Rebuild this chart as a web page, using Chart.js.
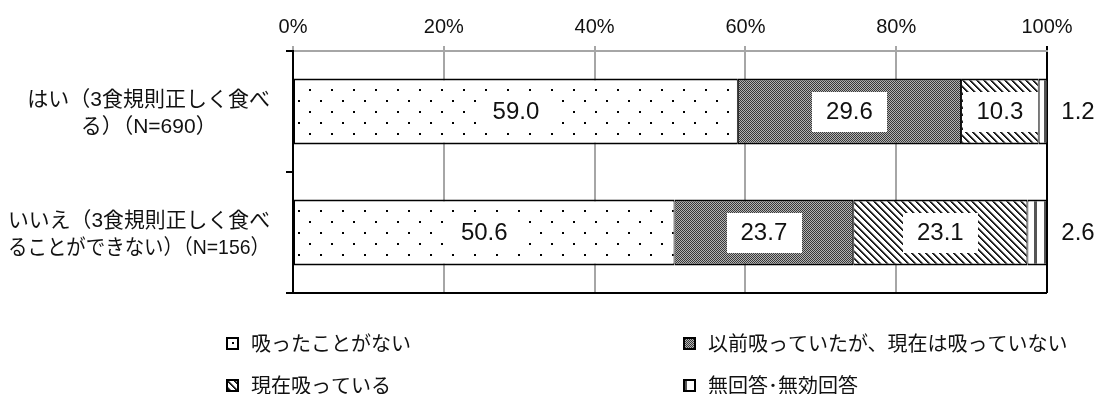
<!DOCTYPE html>
<html><head><meta charset="utf-8">
<script src="https://cdn.jsdelivr.net/npm/chart.js@4/dist/chart.umd.min.js"></script>
<style>html,body{margin:0;padding:0;background:#fff}</style>
</head><body>
<canvas id="c" width="1106" height="394"></canvas>
<script>
// ---- data ----
const categories = [
  ['はい（3食規則正しく食べ', 'る）（N=690）'],
  ['いいえ（3食規則正しく食べ', 'ることができない）（N=156）']
];
const seriesNames = ['吸ったことがない', '以前吸っていたが、現在は吸っていない', '現在吸っている', '無回答･無効回答'];
const neverSmoked   = [59.0, 50.6];
const formerSmoker  = [29.6, 23.7];
const currentSmoker = [10.3, 23.1];
const noAnswer      = [1.2, 2.6];
const tickValues    = [0, 20, 40, 60, 80, 100];

// ---- patterns ----
const mainCtx = document.getElementById('c').getContext('2d');
function tile(w, h, draw) {
  const t = document.createElement('canvas'); t.width = w; t.height = h;
  const x = t.getContext('2d'); draw(x, w, h);
  return mainCtx.createPattern(t, 'repeat');
}
const dotPattern = tile(22, 22, (x, w, h) => {
  x.fillStyle = '#fff'; x.fillRect(0, 0, w, h);
  x.fillStyle = '#000'; x.fillRect(1, 1, 2, 2); x.fillRect(12, 12, 2, 2);
});
const checkPattern = tile(2, 2, (x) => {
  x.fillStyle = '#b4b4b4'; x.fillRect(0, 0, 2, 2);
  x.fillStyle = '#383838'; x.fillRect(0, 0, 1, 1); x.fillRect(1, 1, 1, 1);
});
const stripePattern = tile(7, 7, (x, w, h) => {
  const img = x.createImageData(w, h);
  for (let j = 0; j < h; j++) for (let i = 0; i < w; i++) {
    const k = ((i - j) % 7 + 7) % 7;
    const v = k === 0 ? 20 : (k === 1 ? 40 : (k === 2 ? 150 : 255));
    const p = (j * w + i) * 4;
    img.data[p] = img.data[p + 1] = img.data[p + 2] = v; img.data[p + 3] = 255;
  }
  x.putImageData(img, 0, 0);
});
const vlinePattern = tile(10, 2, (x, w, h) => {
  x.fillStyle = '#fff'; x.fillRect(0, 0, w, h);
  x.fillStyle = '#555'; x.fillRect(4, 0, 3, h);
});
const fills = [dotPattern, checkPattern, stripePattern, vlinePattern];

const numFont = "24px 'Liberation Sans', Arial, sans-serif";
const jpFont = "20px 'Liberation Sans', 'Noto Sans CJK JP', sans-serif";
const catFont = "21px 'Liberation Sans', 'Noto Sans CJK JP', sans-serif";

function cjkMid(ctx) {
  const m = ctx.measureText('食');
  return (m.actualBoundingBoxAscent - m.actualBoundingBoxDescent) / 2;
}

// ---- plugins ----
const dataLabels = {
  id: 'dataLabels',
  afterDatasetsDraw(chart) {
    const ctx = chart.ctx;
    ctx.save();
    ctx.font = numFont; ctx.textAlign = 'center'; ctx.textBaseline = 'middle';
    chart.data.datasets.forEach((ds, d) => {
      const meta = chart.getDatasetMeta(d);
      meta.data.forEach((bar, i) => {
        const txt = ds.data[i].toFixed(1);
        const tw = ctx.measureText(txt).width;
        if (d < 3) {
          const cx = (bar.x + bar.base) / 2;
          ctx.fillStyle = '#fff';
          ctx.fillRect(Math.round(cx - tw / 2 - 14), Math.round(bar.y - 20), Math.round(tw + 28), 40);
          ctx.fillStyle = '#111';
          ctx.fillText(txt, cx, bar.y + 1);
        } else {
          ctx.fillStyle = '#111';
          ctx.fillText(txt, chart.chartArea.right + 31, bar.y + 1);
        }
      });
    });
    ctx.restore();
  }
};
const catLabels = {
  id: 'catLabels',
  afterDraw(chart) {
    const ctx = chart.ctx, ys = chart.scales.y;
    ctx.save();
    ctx.font = catFont; ctx.fillStyle = '#111'; ctx.textAlign = 'center'; ctx.textBaseline = 'alphabetic';
    const mid = cjkMid(ctx);
    const rightEdge = chart.chartArea.left - 23;
    const maxW = 262;
    categories.forEach((lines, i) => {
      const cy = ys.getPixelForValue(i);
      const W = Math.min(maxW, Math.max(...lines.map(l => ctx.measureText(l).width)));
      const cx = rightEdge - W / 2;
      lines.forEach((l, k) => ctx.fillText(l, cx, cy + mid + (k - (lines.length - 1) / 2) * 27, W));
    });
    // bottom border
    const a = chart.chartArea;
    ctx.strokeStyle = '#000'; ctx.lineWidth = 2;
    ctx.beginPath(); ctx.moveTo(a.left, a.bottom); ctx.lineTo(a.right, a.bottom); ctx.stroke();
    ctx.restore();
  }
};
const legendCols = [226, 683], legendRows = [343, 385];
const customLegend = {
  id: 'customLegend',
  afterDraw(chart) {
    const ctx = chart.ctx;
    ctx.save();
    ctx.font = jpFont; ctx.textBaseline = 'alphabetic'; ctx.textAlign = 'left';
    const mid = cjkMid(ctx);
    chart.data.datasets.forEach((ds, i) => {
      const x = legendCols[i % 2], y = legendRows[Math.floor(i / 2)];
      ctx.fillStyle = ds.backgroundColor; ctx.fillRect(x, y - 6, 13, 13);
      ctx.strokeStyle = '#000'; ctx.lineWidth = 2; ctx.strokeRect(x + 1, y - 5, 11, 11);
      ctx.fillStyle = '#111'; ctx.fillText(ds.label, x + 25, y + mid);
    });
    ctx.restore();
  }
};

const seriesValues = [neverSmoked, formerSmoker, currentSmoker, noAnswer];
new Chart(document.getElementById('c'), {
  type: 'bar',
  data: {
    labels: categories,
    datasets: seriesNames.map((n, i) => ({
      label: n, data: seriesValues[i], backgroundColor: fills[i],
      borderColor: '#000', borderWidth: {top: 2, bottom: 2, left: 1, right: 1}, borderSkipped: false,
      barPercentage: 0.545, categoryPercentage: 1
    }))
  },
  options: {
    indexAxis: 'y', responsive: false, animation: false, devicePixelRatio: 1,
    layout: {padding: {left: 0, right: 59, top: 0, bottom: 101}},
    plugins: {legend: {display: false}, tooltip: {enabled: false}},
    scales: {
      x: {
        position: 'top', stacked: true, min: 0, max: 100,
        afterFit: s => { s.height = 51; },
        afterBuildTicks: s => { s.ticks = tickValues.map(v => ({value: v})); },
        ticks: {font: {family: "'Liberation Sans', Arial", size: 20}, color: '#111', padding: 7, callback: v => v + '%'},
        grid: {color: c => (c.tick && c.tick.value === 100 ? '#000' : '#a6a6a6'), lineWidth: 2, tickLength: 5},
        border: {color: '#a6a6a6', width: 2}
      },
      y: {
        stacked: true,
        afterFit: s => { s.width = 293; },
        ticks: {display: false},
        grid: {offset: true, drawOnChartArea: false, drawTicks: true, tickLength: 7, color: '#000', lineWidth: 2},
        border: {color: '#000', width: 2}
      }
    }
  },
  plugins: [dataLabels, catLabels, customLegend]
});
</script>
</body></html>
